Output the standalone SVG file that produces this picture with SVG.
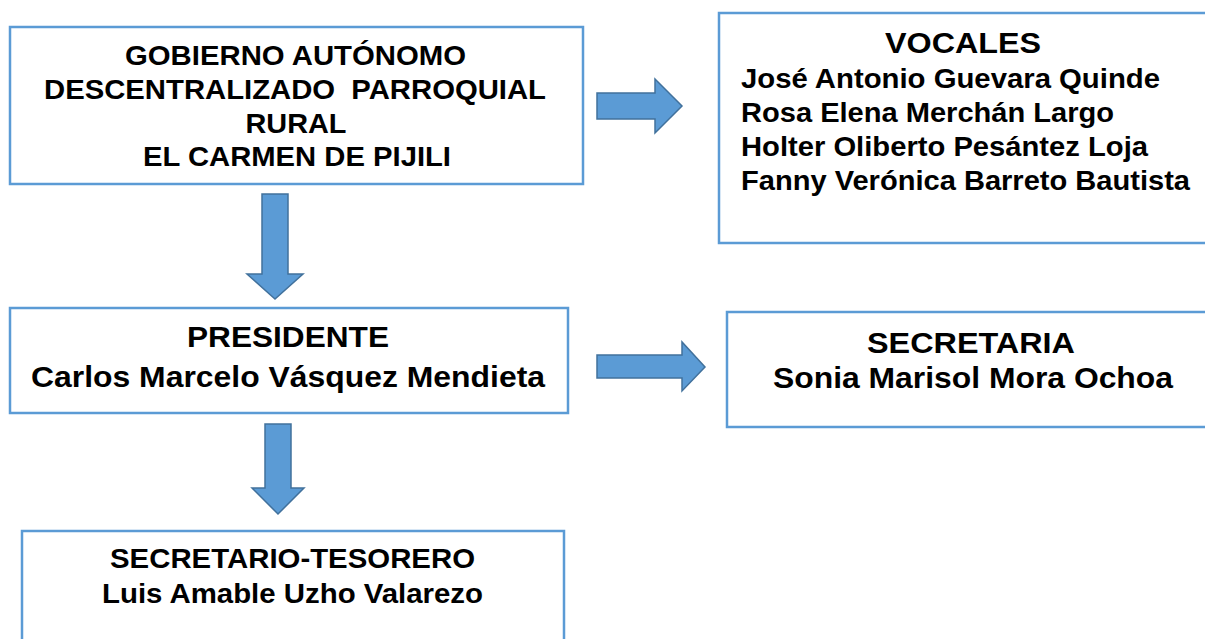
<svg xmlns="http://www.w3.org/2000/svg" width="1205" height="639" viewBox="0 0 1205 639">
<style>
.box{fill:#ffffff;stroke:#5b9bd5;stroke-width:2.5}
.arr{fill:#5b9bd5;stroke:#41719c;stroke-width:1.5;stroke-linejoin:miter}
.t{font-family:"Liberation Sans",Arial,sans-serif;font-weight:bold;fill:#000000;font-size:28px}
.h{font-size:29px}
.c{text-anchor:middle}
</style>
<rect width="1205" height="639" fill="#ffffff"/>
<g id="connectors">
<polygon class="arr" points="597,93 655,93 655,79 682,106 655,133 655,119 597,119"/>
<polygon class="arr" points="262,194 288,194 288,274 303,274 275,299 247,274 262,274"/>
<polygon class="arr" points="597,355 682,355 682,342 705,367 682,391 682,378 597,378"/>
<polygon class="arr" points="265,424 291,424 291,488 304,488 278,514 252,488 265,488"/>
</g>
<g id="gobierno">
<rect class="box" x="10" y="27" width="573" height="157"/>
<text class="t" x="295.5" y="65" textLength="341" lengthAdjust="spacingAndGlyphs" text-anchor="middle">GOBIERNO AUTÓNOMO</text>
<text class="t" x="295" y="99" textLength="502" lengthAdjust="spacingAndGlyphs" text-anchor="middle" xml:space="preserve">DESCENTRALIZADO  PARROQUIAL</text>
<text class="t" x="296" y="133" textLength="101" lengthAdjust="spacingAndGlyphs" text-anchor="middle">RURAL</text>
<text class="t" x="297" y="166" textLength="308" lengthAdjust="spacingAndGlyphs" text-anchor="middle">EL CARMEN DE PIJILI</text>
</g>
<g id="vocales">
<rect class="box" x="719" y="13" width="500" height="230"/>
<text class="t h" x="963" y="53" textLength="156" lengthAdjust="spacingAndGlyphs" text-anchor="middle">VOCALES</text>
<text class="t" x="741" y="88" textLength="419" lengthAdjust="spacingAndGlyphs">José Antonio Guevara Quinde</text>
<text class="t" x="741" y="122" textLength="373" lengthAdjust="spacingAndGlyphs">Rosa Elena Merchán Largo</text>
<text class="t" x="741" y="156" textLength="407" lengthAdjust="spacingAndGlyphs">Holter Oliberto Pesántez Loja</text>
<text class="t" x="741" y="190" textLength="449" lengthAdjust="spacingAndGlyphs">Fanny Verónica Barreto Bautista</text>
</g>
<g id="presidente">
<rect class="box" x="10" y="308" width="558" height="105"/>
<text class="t h" x="288" y="347" textLength="202" lengthAdjust="spacingAndGlyphs" text-anchor="middle">PRESIDENTE</text>
<text class="t h" x="288" y="387" textLength="514" lengthAdjust="spacingAndGlyphs" text-anchor="middle">Carlos Marcelo Vásquez Mendieta</text>
</g>
<g id="secretaria">
<rect class="box" x="727" y="312" width="500" height="115"/>
<text class="t h" x="971" y="353" textLength="208" lengthAdjust="spacingAndGlyphs" text-anchor="middle">SECRETARIA</text>
<text class="t h" x="973" y="388" textLength="400" lengthAdjust="spacingAndGlyphs" text-anchor="middle">Sonia Marisol Mora Ochoa</text>
</g>
<g id="secretario-tesorero">
<rect class="box" x="22" y="531" width="542" height="130"/>
<text class="t" x="292.5" y="568" textLength="365" lengthAdjust="spacingAndGlyphs" text-anchor="middle">SECRETARIO-TESORERO</text>
<text class="t" x="292.5" y="603" textLength="381" lengthAdjust="spacingAndGlyphs" text-anchor="middle">Luis Amable Uzho Valarezo</text>
</g>
</svg>
